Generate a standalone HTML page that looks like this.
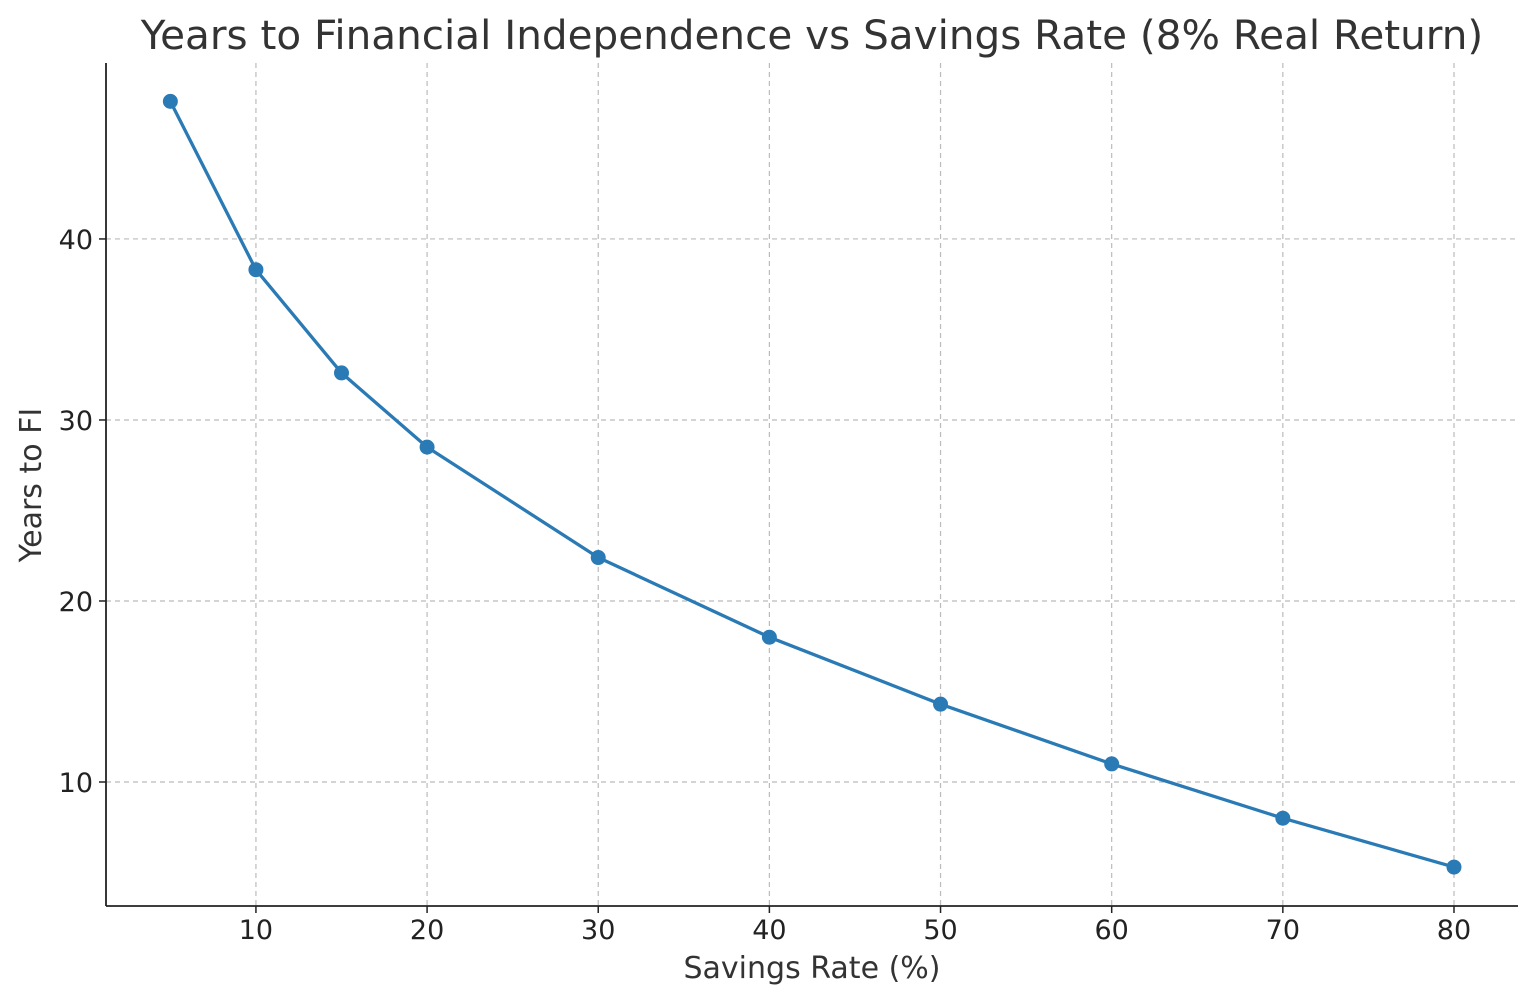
<!DOCTYPE html>
<html><head><meta charset="utf-8"><style>
html,body{margin:0;padding:0;background:#fff;}
svg{display:block;font-family:"DejaVu Sans","Liberation Sans",sans-serif;}
</style></head><body>
<svg id="chart" width="1536" height="1003">
<text x="812" y="49" text-anchor="middle" font-size="40.5" fill="#333">Years to Financial Independence vs Savings Rate (8% Real Return)</text>
<text x="812" y="978" text-anchor="middle" font-size="30" fill="#333">Savings Rate (%)</text>
<text transform="translate(41,485) rotate(-90)" text-anchor="middle" font-size="30" fill="#333">Years to FI</text>
<g id="grid"></g><g id="axes"></g><g id="series"></g>
</svg>
<script>
const savingsRates=[5,10,15,20,30,40,50,60,70,80];
const yearsToFI=[47.6,38.3,32.6,28.5,22.4,18.0,14.3,11.0,8.0,5.3];
const xTicks=[10,20,30,40,50,60,70,80];
const yTicks=[10,20,30,40];
const L=106,R=1518,T=63,B=906;
const xMin=1.24,xMax=83.74,yMin=3.15,yMax=49.72;
const sx=v=>L+(v-xMin)/(xMax-xMin)*(R-L);
const sy=v=>B-(v-yMin)/(yMax-yMin)*(B-T);
const NS='http://www.w3.org/2000/svg';
function mk(tag,attrs,parent){const e=document.createElementNS(NS,tag);for(const k in attrs)e.setAttribute(k,attrs[k]);parent.appendChild(e);return e;}
const grid=document.getElementById('grid'),axes=document.getElementById('axes'),series=document.getElementById('series');
xTicks.forEach(t=>{const x=sx(t);
const g=mk('line',{x1:x,x2:x,y1:T,y2:B,stroke:'#bbb','stroke-dasharray':'5,4','stroke-width':1.2},grid);


mk('line',{x1:x,x2:x,y1:B,y2:B+7,stroke:'#222','stroke-width':1.5},axes);
const tx=mk('text',{x:x,y:B+33,'text-anchor':'middle','font-size':27,fill:'#222'},axes);tx.textContent=t;

});
yTicks.forEach(t=>{const y=sy(t);
const g=mk('line',{x1:L,x2:R,y1:y,y2:y,stroke:'#bbb','stroke-dasharray':'5,4','stroke-width':1.2},grid);


mk('line',{x1:L-7,x2:L,y1:y,y2:y,stroke:'#222','stroke-width':1.5},axes);
const tx=mk('text',{x:L-13,y:y+10,'text-anchor':'end','font-size':27,fill:'#222'},axes);tx.textContent=t;

});
const ya=mk('line',{x1:L,x2:L,y1:T,y2:B,stroke:'#222','stroke-width':1.8},axes);


const xa=mk('line',{x1:L,x2:R,y1:B,y2:B,stroke:'#222','stroke-width':1.8},axes);


const pts=savingsRates.map((v,i)=>sx(v)+','+sy(yearsToFI[i])).join(' ');
const pl=mk('polyline',{points:pts,fill:'none',stroke:'#2a7ab5','stroke-width':3.3,'stroke-linejoin':'round'},series);


savingsRates.forEach((v,i)=>{const c=mk('circle',{cx:sx(v),cy:sy(yearsToFI[i]),r:7.5,fill:'#2a7ab5'},series);

});
</script>
</body></html>
